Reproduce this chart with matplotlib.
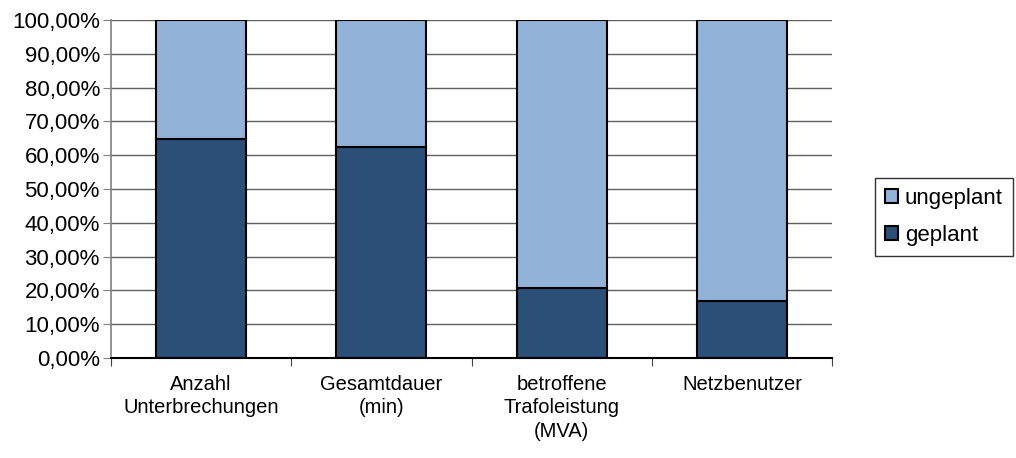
import matplotlib.pyplot as plt
from matplotlib.ticker import FuncFormatter, MultipleLocator

kategorien = ["Anzahl\nUnterbrechungen", "Gesamtdauer\n(min)", "betroffene\nTrafoleistung\n(MVA)", "Netzbenutzer"]
geplant = [64.7, 62.5, 20.8, 17.0]
ungeplant = [100 - g for g in geplant]

dunkel = "#2b4f76"
hell = "#91b3d7"

plt.rcParams["font.family"] = ["Liberation Sans", "DejaVu Sans"]
plt.rcParams["font.size"] = 14

fig = plt.figure(figsize=(10.16, 4.58), dpi=100)
ax = fig.add_axes([111 / 1016, 1 - 358 / 458, 721 / 1016, 338 / 458])

x = range(len(kategorien))
ax.bar(x, geplant, width=0.5, color=dunkel, edgecolor="black", linewidth=1.5, label="geplant", zorder=3)
ax.bar(x, ungeplant, width=0.5, bottom=geplant, color=hell, edgecolor="black", linewidth=1.5,
       label="ungeplant", zorder=3)

ax.set_xlim(-0.5, len(kategorien) - 0.5)
ax.set_ylim(0, 100)
ax.yaxis.set_major_locator(MultipleLocator(10))
ax.yaxis.set_major_formatter(FuncFormatter(lambda v, p: f"{v:.2f}%".replace(".", ",")))
ax.grid(axis="y", color="#606060", linewidth=1, zorder=0)

ax.set_xticks([i + 0.5 for i in range(len(kategorien) - 1)] + [-0.5, len(kategorien) - 0.5])
ax.set_xticklabels([])
ax.set_xticks(list(x), minor=True)
ax.set_xticklabels(kategorien, minor=True, fontsize=14.5, linespacing=1.3)
ax.tick_params(axis="x", which="minor", length=0, pad=12)
ax.tick_params(axis="x", which="major", length=6, color="#404040")
ax.tick_params(axis="y", length=6, color="#808080", pad=2, labelsize=16)

for s in ["top", "right"]:
    ax.spines[s].set_visible(False)
ax.spines["left"].set_color("#808080")
ax.spines["left"].set_linewidth(1.2)
ax.spines["bottom"].set_color("black")
ax.spines["bottom"].set_linewidth(1.5)
ax.spines["bottom"].set_zorder(4)

h, l = ax.get_legend_handles_labels()
leg = fig.legend(h[::-1], l[::-1], loc="upper left", bbox_to_anchor=(875 / 1016, 1 - 178 / 458),
                 frameon=True, fancybox=False, edgecolor="black", fontsize=16,
                 handlelength=0.6, handleheight=0.6, handletextpad=0.3, borderpad=0.45,
                 labelspacing=0.7, borderaxespad=0)
leg.get_frame().set_linewidth(1)

fig.savefig("out.png", dpi=100)
